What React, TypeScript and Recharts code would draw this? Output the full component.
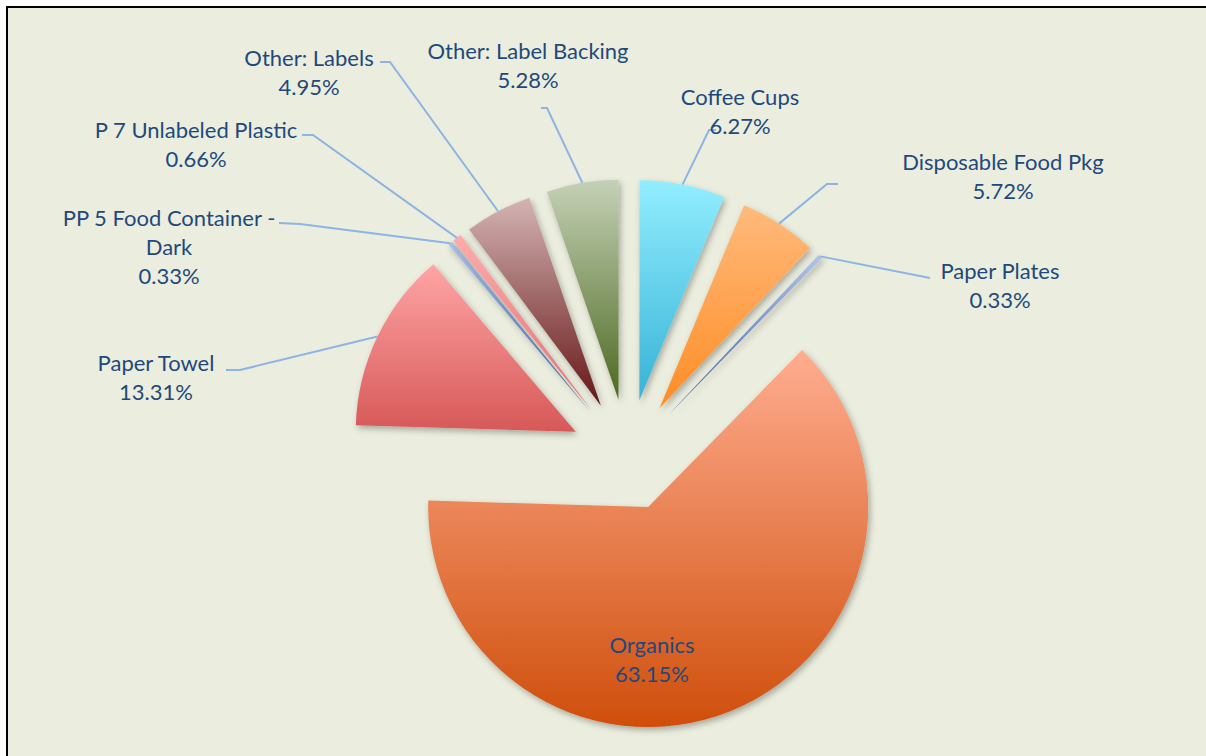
import React from 'react';
import { PieChart, Pie, Cell, Sector } from 'recharts';

// ---- data ----
const categories = [
  'Organics',
  'Paper Towel',
  'PP 5 Food Container - Dark',
  'P 7 Unlabeled Plastic',
  'Other: Labels',
  'Other: Label Backing',
  'Coffee Cups',
  'Disposable Food Pkg',
  'Paper Plates',
];
const shares = [63.15, 13.31, 0.33, 0.66, 4.95, 5.28, 6.27, 5.72, 0.33];

// ---- styles / layout ----
const gradTop = ['#FFAD90', '#FFA5A5', '#AFC3EC', '#FFABAB', '#D4B4B4', '#C5D1B6', '#92EEFF', '#FFBA7C', '#B3C3EA'];
const gradBottom = ['#CF4E0B', '#D75858', '#3C64B0', '#E07070', '#661515', '#4C6921', '#37B2D6', '#FF8C24', '#3D5DA0'];
const explode = [54, 58, 58, 58, 58, 58, 58, 58, 58];
// label text position (centre x, first line y), leader start and elbow
const labelLayout = [
  { x: 652, y: 644 },
  { x: 156, y: 362, sx: 226, sy: 370, ex: 240, ey: 370 },
  { x: 169, y: 217, sx: 279, sy: 223, ex: 300, ey: 224 },
  { x: 196, y: 129, sx: 302, sy: 135, ex: 313, ey: 135 },
  { x: 309, y: 57, sx: 380, sy: 62, ex: 390, ey: 62 },
  { x: 528, y: 50, sx: 541, sy: 108, ex: 547, ey: 108 },
  { x: 740, y: 96, sx: 716, sy: 130, ex: 709, ey: 130 },
  { x: 1003, y: 161, sx: 838, sy: 184, ex: 827, ey: 184 },
  { x: 1000, y: 270, sx: 930, sy: 278, ex: 925, ey: 277 },
];

const data = categories.map((name, i) => ({ name, value: shares[i] }));

const TEXT_COLOR = '#1F497D';
const LEADER_COLOR = '#8EB4E3';
const FONT = 'Lato, "Open Sans", sans-serif';
const RAD = Math.PI / 180;

const idxOf = (p: any) => {
  const n = p?.name ?? p?.payload?.name;
  const i = categories.indexOf(n);
  return i >= 0 ? i : (p?.index ?? 0);
};

const wrap = (s: string, max = 22): string[] => {
  if (s.length <= max) return [s];
  const cut = s.lastIndexOf(' ', max);
  return [s.slice(0, cut), s.slice(cut + 1)];
};

const renderSlice = (props: any) => {
  const i = idxOf(props);
  const { cx, cy, midAngle, innerRadius, outerRadius, startAngle, endAngle } = props;
  const d = explode[i];
  const ox = cx + d * Math.cos(-midAngle * RAD);
  const oy = cy + d * Math.sin(-midAngle * RAD);
  return (
    <Sector
      cx={ox}
      cy={oy}
      innerRadius={innerRadius}
      outerRadius={outerRadius}
      startAngle={startAngle}
      endAngle={endAngle}
      fill={`url(#g${i})`}
      stroke="none"
      filter="url(#shadow)"
    />
  );
};

const renderLabel = (props: any) => {
  const i = idxOf(props);
  const { cx, cy, midAngle, outerRadius, percent } = props;
  const L = labelLayout[i];
  const lines = [...wrap(categories[i]), `${(percent * 100).toFixed(2)}%`];
  const r = outerRadius + explode[i];
  const px = cx + r * Math.cos(-midAngle * RAD);
  const py = cy + r * Math.sin(-midAngle * RAD);
  return (
    <g key={`lbl${i}`}>
      {L.sx !== undefined && (
        <polyline
          points={`${L.sx},${L.sy} ${L.ex},${L.ey} ${px},${py}`}
          fill="none"
          stroke={LEADER_COLOR}
          strokeWidth={2}
        />
      )}
      {lines.map((t, k) => (
        <text
          key={k}
          x={L.x}
          y={L.y + k * 29}
          textAnchor="middle"
          dominantBaseline="central"
          fill={TEXT_COLOR}
          fontFamily={FONT}
          fontSize={22}
        >
          {t}
        </text>
      ))}
    </g>
  );
};

export default function App() {
  return (
    <div style={{ position: 'absolute', left: 0, top: 0, width: 1206, height: 756, background: '#fff', overflow: 'hidden' }}>
      <div
        style={{
          position: 'absolute',
          left: 6,
          top: 6,
          width: 1200,
          height: 750,
          borderTop: '2px solid #000',
          borderLeft: '2px solid #000',
          background: '#EBEEDE',
          boxSizing: 'border-box',
        }}
      />
      <div style={{ position: 'absolute', left: 0, top: 0 }}>
        <PieChart width={1206} height={756} margin={{ top: 0, right: 0, bottom: 0, left: 0 }}>
          <defs>
            {categories.map((_, i) => (
              <linearGradient key={i} id={`g${i}`} x1="0" y1="0" x2="0" y2="1">
                <stop offset="0%" stopColor={gradTop[i]} />
                <stop offset="100%" stopColor={gradBottom[i]} />
              </linearGradient>
            ))}
            <filter id="shadow" x="-20%" y="-20%" width="140%" height="140%">
              <feDropShadow dx="2" dy="3" stdDeviation="3" floodColor="#000" floodOpacity="0.3" />
            </filter>
          </defs>
          <Pie
            data={data}
            dataKey="value"
            nameKey="name"
            cx={628}
            cy={457}
            outerRadius={220}
            startAngle={45.6}
            endAngle={-314.4}
            stroke="none"
            isAnimationActive={false}
            shape={renderSlice}
            label={renderLabel}
            labelLine={false}
          >
            {data.map((_, i) => (
              <Cell key={i} fill={`url(#g${i})`} />
            ))}
          </Pie>
        </PieChart>
      </div>
    </div>
  );
}
